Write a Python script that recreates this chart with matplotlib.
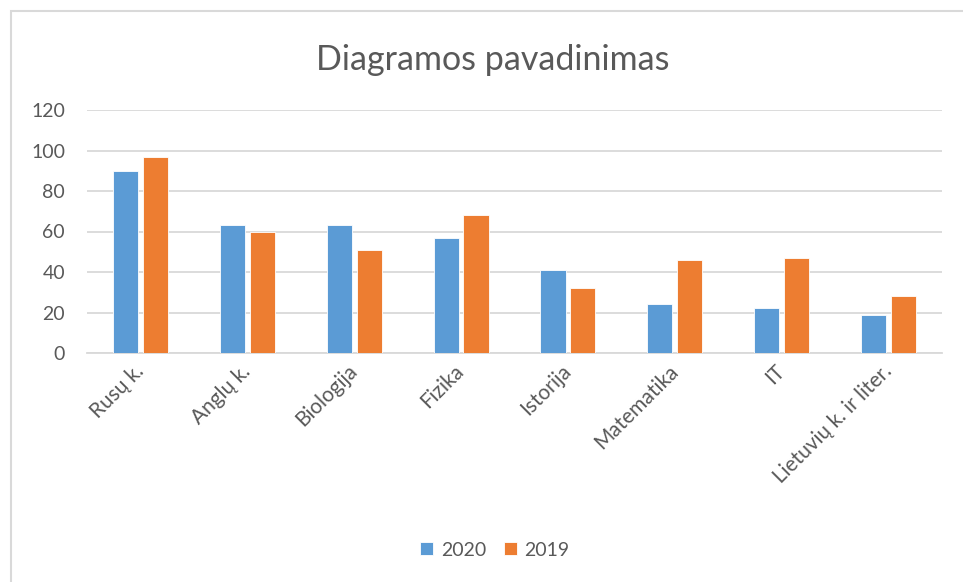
import matplotlib
matplotlib.use("Agg")
import matplotlib.pyplot as plt
import numpy as np
from matplotlib.patches import Rectangle

categories = ["Rusų k.", "Anglų k.", "Biologija", "Fizika", "Istorija",
              "Matematika", "IT", "Lietuvių k. ir liter."]
values_2020 = [90, 63, 63, 57, 41, 24, 22, 19]
values_2019 = [97, 60, 51, 68, 32, 46, 47, 28]
series_names = ["2020", "2019"]
yticks = [0, 20, 40, 60, 80, 100, 120]

BLUE = "#5B9BD5"
ORANGE = "#ED7D31"
GRID = "#D9D9D9"
TEXT = "#595959"

plt.rcParams['font.family'] = ['Lato', 'DejaVu Sans']

W, H = 963, 582
fig = plt.figure(figsize=(W/100, H/100), dpi=100)
ax = fig.add_axes([87/W, 1 - 353/H, (942 - 87)/W, (353 - 110)/H])

# chart frame (only top and left edges are inside the screenshot)
fig.patches.append(Rectangle((11/W, -0.1), 1.2, 1 - 11/H + 0.1,
                             transform=fig.transFigure, fill=False,
                             edgecolor=GRID, linewidth=1.5))

x = np.arange(len(categories))
w = 0.235
b1 = ax.bar(x - 0.14, values_2020, width=w, color=BLUE, edgecolor="white", linewidth=0.6,
            label=series_names[0], zorder=3)
b2 = ax.bar(x + 0.14, values_2019, width=w, color=ORANGE, edgecolor="white", linewidth=0.6,
            label=series_names[1], zorder=3)

ax.set_xlim(-0.5, len(categories) - 0.5)
ax.set_ylim(0, 120)
ax.set_yticks(yticks)
ax.yaxis.grid(True, color=GRID, linewidth=1.3)
ax.set_axisbelow(True)
for s in ["top", "right", "left"]:
    ax.spines[s].set_visible(False)
ax.spines["bottom"].set_color(GRID)
ax.spines["bottom"].set_linewidth(1.3)

ax.tick_params(axis="y", length=0, pad=15.8, labelsize=14, labelcolor=TEXT)
ax.tick_params(axis="x", length=0, pad=11, labelsize=15, labelcolor=TEXT)
ax.set_xticks(x)
ax.set_xticklabels(categories, rotation=45, ha="right", va="center", rotation_mode="anchor")

fig.text(493/W, 1 - 70/H, "Diagramos pavadinimas", ha="center", va="baseline",
         fontsize=24.5, color=TEXT)

fig.legend(handles=[b1, b2], labels=series_names, loc="center", bbox_to_anchor=(495/W, 1 - 550/H),
           ncol=2, frameon=False, fontsize=14, labelcolor=TEXT, handlelength=0.67,
           handleheight=0.67, handletextpad=0.4, columnspacing=0.9)

fig.savefig("out.png", dpi=100)
